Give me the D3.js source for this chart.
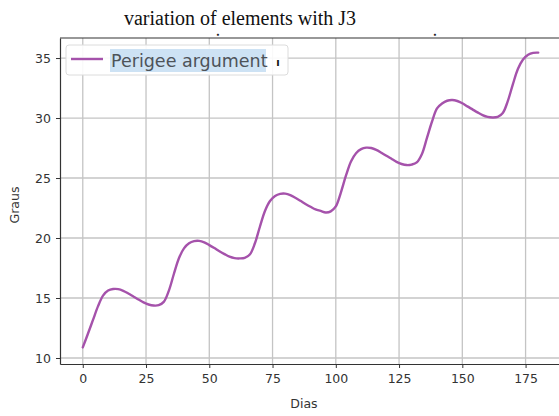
<!DOCTYPE html>
<html>
<head>
<meta charset="utf-8">
<script src="https://cdn.jsdelivr.net/npm/d3@7"></script>
<style>
  html, body { margin: 0; padding: 0; background: #fff; }
  svg { display: block; }
</style>
</head>
<body>
<svg id="chart" width="559" height="416"></svg>
<script>
// Perigee argument (degrees) over time (days), sampled every 2 days
const days = [0, 2, 4, 6, 8, 10, 12, 14, 16, 18, 20, 22, 24, 26, 28, 30, 32, 34, 36, 38,
  40, 42, 44, 46, 48, 50, 52, 54, 56, 58, 60, 62, 64, 66, 68, 70, 72, 74, 76, 78,
  80, 82, 84, 86, 88, 90, 92, 94, 96, 98, 100, 102, 104, 106, 108, 110, 112, 114, 116, 118,
  120, 122, 124, 126, 128, 130, 132, 134, 136, 138, 140, 142, 144, 146, 148, 150, 152, 154, 156, 158,
  160, 162, 164, 166, 168, 170, 172, 174, 176, 178, 180];
const perigee = [10.88, 12.0, 13.15, 14.3, 15.2, 15.62, 15.75, 15.74, 15.6, 15.38,
  15.13, 14.88, 14.64, 14.46, 14.37, 14.4, 14.68, 15.6, 17.0, 18.31,
  19.14, 19.56, 19.74, 19.76, 19.64, 19.41, 19.16, 18.9, 18.66, 18.44,
  18.32, 18.3, 18.34, 18.62, 19.54, 20.94, 22.25, 23.08, 23.5, 23.68,
  23.7, 23.58, 23.35, 23.1, 22.84, 22.6, 22.38, 22.26, 22.13, 22.22,
  22.63, 23.79, 25.19, 26.38, 27.07, 27.41, 27.53, 27.5, 27.35, 27.11,
  26.85, 26.6, 26.35, 26.17, 26.08, 26.12, 26.3, 26.98, 28.32, 29.69,
  30.8, 31.21, 31.44, 31.5, 31.42, 31.23, 30.97, 30.72, 30.47, 30.24,
  30.09, 30.05, 30.1, 30.42, 31.43, 32.83, 34.1, 34.88, 35.27, 35.43, 35.45];
const xTicks = [0, 25, 50, 75, 100, 125, 150, 175];
const yTicks = [10, 15, 20, 25, 30, 35];
const seriesName = "Perigee argument";

const svg = d3.select("#chart");
const plot = { left: 60, right: 561, top: 38, bottom: 364 };

const x = d3.scaleLinear().domain([-9, 189]).range([plot.left, plot.right]);
const y = d3.scaleLinear().domain([9.5, 36.67]).range([plot.bottom, plot.top]);

// title
svg.append("text")
  .attr("x", 240).attr("y", 25)
  .attr("text-anchor", "middle")
  .style("font-family", "'Liberation Serif', 'Times New Roman', serif")
  .style("font-size", "20px")
  .attr("fill", "#111")
  .text("variation of elements with J3");

// grid
const grid = svg.append("g");
grid.selectAll("line.v").data(xTicks).join("line")
  .attr("x1", d => x(d)).attr("x2", d => x(d))
  .attr("y1", plot.top).attr("y2", plot.bottom)
  .attr("stroke", "#c4c4c4").attr("stroke-width", 1.3);
grid.selectAll("line.h").data(yTicks).join("line")
  .attr("x1", plot.left).attr("x2", plot.right)
  .attr("y1", d => y(d)).attr("y2", d => y(d))
  .attr("stroke", "#c4c4c4").attr("stroke-width", 1.3);

// axes
const tickFont = "'DejaVu Sans', sans-serif";
const xAxis = svg.append("g")
  .attr("transform", `translate(0,${plot.bottom})`)
  .call(d3.axisBottom(x).tickValues(xTicks).tickSize(4).tickPadding(6).tickSizeOuter(0));
const yAxis = svg.append("g")
  .attr("transform", `translate(${plot.left},0)`)
  .call(d3.axisLeft(y).tickValues(yTicks).tickSize(4).tickPadding(5).tickSizeOuter(0));
[xAxis, yAxis].forEach(g => {
  g.select(".domain").attr("stroke", "#333").attr("stroke-width", 1.2);
  g.selectAll(".tick line").attr("stroke", "#333").attr("stroke-width", 1);
  g.selectAll(".tick text")
    .style("font-family", tickFont).style("font-size", "12.5px")
    .attr("fill", "#333");
});
// top spine
svg.append("line")
  .attr("x1", plot.left).attr("x2", plot.right)
  .attr("y1", plot.top).attr("y2", plot.top)
  .attr("stroke", "#333").attr("stroke-width", 1.2);

// axis labels
svg.append("text")
  .attr("x", 304).attr("y", 408)
  .attr("text-anchor", "middle")
  .style("font-family", tickFont).style("font-size", "12.5px")
  .attr("fill", "#333")
  .text("Dias");
svg.append("text")
  .attr("transform", "translate(19,205) rotate(-90)")
  .attr("text-anchor", "middle")
  .style("font-family", tickFont).style("font-size", "12.5px")
  .attr("fill", "#333")
  .text("Graus");

// series
const lineColor = "#a552ab";
const line = d3.line()
  .x((d, i) => x(days[i]))
  .y(d => y(d))
  .curve(d3.curveCatmullRom.alpha(0.5));
svg.append("path")
  .datum(perigee)
  .attr("d", line)
  .attr("fill", "none")
  .attr("stroke", lineColor)
  .attr("stroke-width", 2.4)
  .attr("stroke-linejoin", "round")
  .attr("stroke-linecap", "round");

// legend
const legend = svg.append("g");
legend.append("rect")
  .attr("x", 66).attr("y", 45).attr("width", 222).attr("height", 30)
  .attr("rx", 3)
  .attr("fill", "#fff").attr("fill-opacity", 0.9)
  .attr("stroke", "#dcdcdc").attr("stroke-width", 1);
legend.append("line")
  .attr("x1", 71).attr("x2", 103).attr("y1", 59).attr("y2", 59)
  .attr("stroke", lineColor).attr("stroke-width", 2.4);
legend.append("rect")
  .attr("x", 110).attr("y", 49).attr("width", 156).attr("height", 23)
  .attr("fill", "#cde2f4");
legend.append("text")
  .attr("x", 111).attr("y", 66.5)
  .style("font-family", "'DejaVu Sans', sans-serif")
  .style("font-size", "17.5px")
  .attr("fill", "#4d5359")
  .text(seriesName);
legend.append("text")
  .attr("x", 278).attr("y", 66)
  .attr("text-anchor", "middle")
  .style("font-family", "'DejaVu Sans', sans-serif")
  .style("font-size", "10px").style("font-weight", "bold")
  .attr("fill", "#111")
  .text("ı");

// small marks just above the top spine
svg.selectAll("text.dot").data([218, 435]).join("text")
  .attr("x", d => d).attr("y", 36.5)
  .attr("text-anchor", "middle")
  .style("font-family", "'DejaVu Sans', sans-serif")
  .style("font-size", "6px").style("font-weight", "bold")
  .attr("fill", "#222")
  .text("•");
</script>
</body>
</html>
